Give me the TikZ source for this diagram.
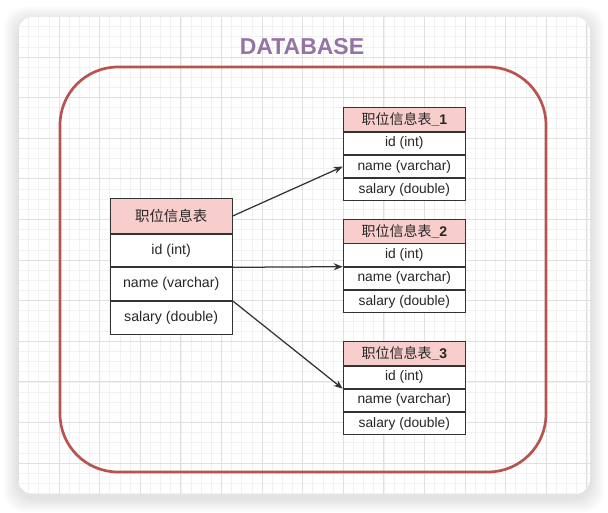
\documentclass[tikz,border=0pt]{standalone}
\usepackage{fontspec}
\setsansfont{Liberation Sans}
\newfontfamily\cjk{Noto Sans CJK SC}
\usetikzlibrary{arrows.meta, positioning, calc}
\definecolor{dbred}{HTML}{B85450}
\definecolor{dbpurple}{HTML}{9673A6}
\definecolor{headfill}{HTML}{F8CECC}
\definecolor{cellline}{HTML}{333333}
\definecolor{gridminor}{HTML}{F1F1F1}
\definecolor{gridmajor}{HTML}{E0E0E0}
\newcommand{\rowh}{22.3pt}
\newcommand{\bigrowh}{32.8pt}

\begin{document}
\begin{tikzpicture}[
    x=1pt, y=-1pt,
    every node/.style={font=\sffamily},
    cell/.style={draw=cellline, line width=0.9pt, fill=white, inner sep=0pt,
                 minimum width=122.3pt, minimum height=\rowh,
                 font=\sffamily\fontsize{13.8}{15}\selectfont, text=black!85},
    head/.style={cell, fill=headfill, minimum height=23.6pt,
                 font=\fontsize{14}{16}\selectfont},
    bigcell/.style={cell, minimum width=122.4pt, minimum height=\bigrowh,
                    font=\sffamily\fontsize{14.2}{16}\selectfont},
    bighead/.style={bigcell, fill=headfill, minimum height=34.4pt,
                    font=\fontsize{14.4}{16}\selectfont},
    link/.style={draw=black!80, line width=1.25pt,
                 -{Stealth[length=9pt, width=7pt]}},
    dbbox/.style={draw=dbred, line width=2.7pt, rounded corners=58pt},
    minorline/.style={draw=gridminor, line width=0.6pt},
    majorline/.style={draw=gridmajor, line width=0.7pt},
]

% ---------------------------------------------------------------- page
\fill[white] (0,0) rectangle (608,513);
\useasboundingbox (0,0) rectangle (608,513);
\foreach \g in {2,4,...,14} {
    \fill[black, fill opacity=0.017, rounded corners=20pt]
        (18-\g, 17-\g+4) rectangle (590+\g, 494+\g+4);
}
\fill[white, rounded corners=15pt] (18,17) rectangle (590,494);

% ---------------------------------------------------------------- grid
\begin{scope}
    \clip[rounded corners=15pt] (18,17) rectangle (590,494);
    \foreach \i in {0,...,56}
        \draw[minorline] ({18.4+10.15*\i},17) -- ({18.4+10.15*\i},494);
    \foreach \j in {0,...,47}
        \draw[minorline] (18,{16.4+10.15*\j}) -- (590,{16.4+10.15*\j});
    \foreach \i in {0,...,14}
        \draw[majorline] ({18.4+40.6*\i},17) -- ({18.4+40.6*\i},494);
    \foreach \j in {0,...,11}
        \draw[majorline] (18,{16.4+40.6*\j}) -- (590,{16.4+40.6*\j});
\end{scope}

% ---------------------------------------------------------------- database
\draw[dbbox] (60,67) rectangle (546,472);
\node[font=\sffamily\bfseries\fontsize{23}{26}\selectfont, text=dbpurple]
    (title) at (302,46.5) {DATABASE};

% ---------------------------------------------------------------- source table
\node[bighead, anchor=north west] (src-h) at (109.5,198.3) {\cjk 职位信息表};
\node[bigcell, below=0pt of src-h] (src-id) {id (int)};
\node[bigcell, below=0pt of src-id] (src-name) {name (varchar)};
\node[bigcell, below=0pt of src-name] (src-sal) {salary (double)};

% ---------------------------------------------------------------- split tables
\foreach \k/\ty in {1/107.3, 2/219, 3/341} {
    \node[head, anchor=north west] (t\k-h) at (342.7,\ty)
        {{\cjk 职位信息表}\textbf{\sffamily\_\k}};
    \node[cell, below=0pt of t\k-h] (t\k-id) {id (int)};
    \node[cell, below=0pt of t\k-id] (t\k-name) {name (varchar)};
    \node[cell, below=0pt of t\k-name] (t\k-sal) {salary (double)};
}

% ---------------------------------------------------------------- arrows
\draw[link] (src-h.east) -- (t1-name.west);
\draw[link] (src-name.north east) -- (t2-name.north west);
\draw[link] (src-sal.north east) -- (t3-name.north west);

\end{tikzpicture}
\end{document}
